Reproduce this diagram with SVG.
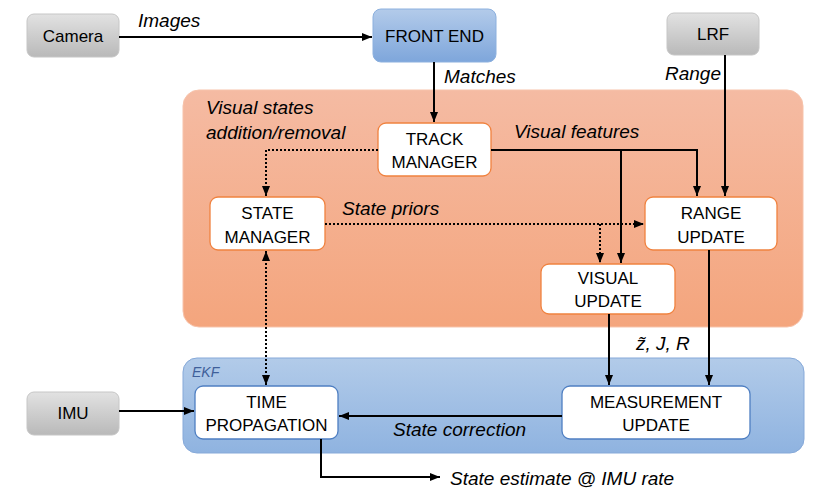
<svg xmlns="http://www.w3.org/2000/svg" width="830" height="498" viewBox="0 0 830 498">
<defs>
<linearGradient id="gGray" x1="0" y1="0" x2="0" y2="1"><stop offset="0" stop-color="#e2e2e2"/><stop offset="1" stop-color="#b9b9b9"/></linearGradient>
<linearGradient id="gBlue" x1="0" y1="0" x2="0" y2="1"><stop offset="0" stop-color="#b3cbea"/><stop offset="1" stop-color="#7ea6db"/></linearGradient>
<linearGradient id="gOrange" x1="0" y1="0" x2="0" y2="1"><stop offset="0" stop-color="#f5bba3"/><stop offset="1" stop-color="#f4a57d"/></linearGradient>
<linearGradient id="gEkf" x1="0" y1="0" x2="0" y2="1"><stop offset="0" stop-color="#b2cbe9"/><stop offset="1" stop-color="#8fb3e0"/></linearGradient>
<marker id="ah" viewBox="0 0 10 10" refX="10" refY="5" markerWidth="10" markerHeight="10" markerUnits="userSpaceOnUse" orient="auto-start-reverse"><path d="M0,1 L10,5 L0,9 z" fill="#000"/></marker>
</defs>
<style>
text{font-family:"Liberation Sans",Arial,sans-serif;fill:#000}
.n{font-size:17px;text-anchor:middle}
.l{font-size:19px;font-style:italic}
.src rect{fill:url(#gGray);stroke:#c6c6c6;stroke-width:1}
.on rect{fill:#fff;stroke:#f0823f;stroke-width:1.3}
.bn rect{fill:#fff;stroke:#4f7fc2;stroke-width:1.3}
.c path{fill:none;stroke:#000;stroke-width:2}
.c .d{stroke-dasharray:2 2}
</style>
<rect x="183" y="90" width="620" height="237" rx="16" fill="url(#gOrange)" stroke="#f7c3ab"/>
<rect x="183" y="358" width="621" height="95" rx="14" fill="url(#gEkf)" stroke="#86a9d9"/>
<text x="192" y="377" style="font-size:14px;font-style:italic;fill:#3f5f9a">EKF</text>
<g id="camera" class="src"><rect x="27" y="14" width="92" height="43" rx="7"/><text class="n" x="73" y="42">Camera</text></g>
<g id="frontend"><rect x="373" y="9" width="123" height="53" rx="8" fill="url(#gBlue)" stroke="#8cb0de"/><text class="n" x="434.5" y="42">FRONT END</text></g>
<g id="lrf" class="src"><rect x="667" y="13" width="92" height="42" rx="7"/><text class="n" x="713" y="40">LRF</text></g>
<g id="imu" class="src"><rect x="27" y="392" width="92" height="43" rx="7"/><text class="n" x="73" y="419">IMU</text></g>
<g id="track" class="on"><rect x="378" y="123" width="113" height="53" rx="8"/><text class="n" x="434.5" y="145">TRACK</text><text class="n" x="434.5" y="168">MANAGER</text></g>
<g id="statemgr" class="on"><rect x="210" y="197" width="115" height="53" rx="8"/><text class="n" x="267.5" y="219">STATE</text><text class="n" x="267.5" y="243">MANAGER</text></g>
<g id="range" class="on"><rect x="645" y="197" width="132" height="53" rx="8"/><text class="n" x="711" y="219">RANGE</text><text class="n" x="711" y="243">UPDATE</text></g>
<g id="visual" class="on"><rect x="541" y="264" width="134" height="50" rx="8"/><text class="n" x="608" y="284">VISUAL</text><text class="n" x="608" y="307">UPDATE</text></g>
<g id="timeprop" class="bn"><rect x="195" y="386" width="143" height="53" rx="8"/><text class="n" x="266.5" y="408">TIME</text><text class="n" x="266.5" y="431">PROPAGATION</text></g>
<g id="measupd" class="bn"><rect x="562" y="386" width="188" height="53" rx="8"/><text class="n" x="656" y="408">MEASUREMENT</text><text class="n" x="656" y="431">UPDATE</text></g>
<g id="connectors" class="c">
<path d="M119,37 H372" marker-end="url(#ah)"/>
<path d="M434,62 V122" marker-end="url(#ah)"/>
<path d="M725,55 V196" marker-end="url(#ah)"/>
<path d="M491,150 H697 V196" marker-end="url(#ah)"/>
<path d="M621,150 V263" marker-end="url(#ah)"/>
<path class="d" d="M378,150 H266 V196" marker-end="url(#ah)"/>
<path class="d" d="M325,224 H644" marker-end="url(#ah)"/>
<path class="d" d="M600,224 V263" marker-end="url(#ah)"/>
<path class="d" d="M266,251 V385" marker-start="url(#ah)" marker-end="url(#ah)"/>
<path d="M609,314 V385" marker-end="url(#ah)"/>
<path d="M709,250 V385" marker-end="url(#ah)"/>
<path d="M562,416 H339" marker-end="url(#ah)"/>
<path d="M119,411 H194" marker-end="url(#ah)"/>
<path d="M321,439 V477 H440" marker-end="url(#ah)"/>
</g>
<g id="labels">
<text class="l" x="138" y="27">Images</text>
<text class="l" x="444" y="83">Matches</text>
<text class="l" x="665" y="80">Range</text>
<text class="l" x="206" y="114">Visual states</text>
<text class="l" x="206" y="139">addition/removal</text>
<text class="l" x="514" y="138">Visual features</text>
<text class="l" x="342" y="215">State priors</text>
<text class="l" x="636" y="350">z̃, J, R</text>
<text class="l" x="393" y="436">State correction</text>
<text class="l" x="450" y="485">State estimate @ IMU rate</text>
</g>
</svg>
